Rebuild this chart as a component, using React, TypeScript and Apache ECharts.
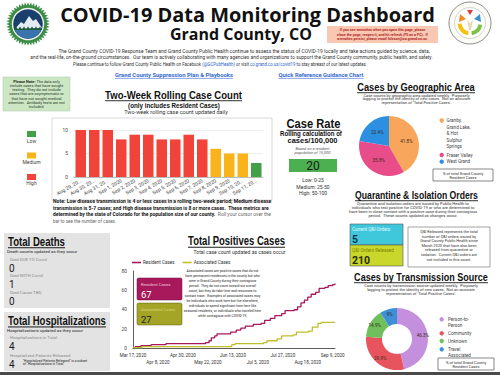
import React, { useEffect, useRef } from "react";
import * as echarts from "echarts";

// ---------- DATA ----------
const barDates = ["Aug 29, 2020", "Aug 30, 2020", "Aug 31, 2020", "Sep 1, 2020", "Sep 2, 2020", "Sep 3, 2020", "Sep 4, 2020", "Sep 5, 2020", "Sep 6, 2020", "Sep 7, 2020", "Sep 8, 2020", "Sep 9, 2020", "Sep 10, 2020", "Sep 11, 2020"];
const rollingCounts = [10, 10, 10, 8, 9, 9, 8, 8, 9, 8, 6, 5, 5, 3];
const rollingTicks = { min: 0, max: 10, interval: 5 };
const lowMax = 4;
const mediumMax = 7;

const positivesStart = "2020-03-17";
const positivesEnd = "2020-09-11";
const positivesTickDays = 22;
const positivesTicks = { min: 0, max: 80, interval: 20 };
const residentCases: [string, number][] = [
  ["2020-03-17", 1], ["2020-03-19", 2], ["2020-03-24", 3], ["2020-04-02", 4], ["2020-04-15", 5],
  ["2020-05-20", 6], ["2020-05-23", 8], ["2020-05-25", 11], ["2020-05-28", 13], ["2020-05-30", 15],
  ["2020-06-11", 17], ["2020-06-16", 19], ["2020-06-20", 21], ["2020-06-24", 23], ["2020-07-01", 25],
  ["2020-07-08", 26], ["2020-07-11", 29], ["2020-07-16", 31], ["2020-07-20", 34], ["2020-07-26", 36],
  ["2020-07-29", 39], ["2020-08-06", 40], ["2020-08-09", 43], ["2020-08-12", 47], ["2020-08-15", 50],
  ["2020-08-18", 53], ["2020-08-21", 56], ["2020-08-25", 58], ["2020-08-28", 62], ["2020-09-02", 63],
  ["2020-09-05", 65], ["2020-09-09", 66], ["2020-09-11", 67],
];
const associatedCases: [string, number][] = [
  ["2020-03-17", 1], ["2020-03-25", 2], ["2020-06-12", 4], ["2020-06-15", 5], ["2020-07-10", 6],
  ["2020-07-13", 8], ["2020-07-22", 10], ["2020-07-26", 13], ["2020-08-05", 14], ["2020-08-08", 17],
  ["2020-08-19", 18], ["2020-08-22", 22], ["2020-08-27", 26], ["2020-08-30", 27], ["2020-09-11", 27],
];

const geoNames = ["Granby, Grand Lake, & Hot Sulphur Springs", "Fraser Valley", "West Grand"];
const geoPercents = [41.8, 35.8, 22.4];
const sourceNames = ["Person-to-Person", "Community", "Unknown", "Travel Associated"];
const sourcePercents = [46.3, 29.9, 14.9, 9];

const deathLabels = ["Died DUE TO Covid", "Died WITH Covid", "Died Cause TBD"];
const deathCounts = [0, 1, 0];
const hospLabels = ["Hospitalizations in Total", "Hospitalized Patients Released"];
const hospCounts = [4, 4];
const caseRate = 20;
const caseRateBands = ["Low: 0-25", "Medium: 25-50", "High: 50-100"];
const qiCurrent = 5;
const qiReleased = 210;

// ---------- STYLE ----------
const FONT = "Roboto, 'Liberation Sans', sans-serif";
const HEAD = "'Liberation Sans', Arial, sans-serif";
const TITLE = "'Open Sans', sans-serif";
const C_LOW = "#43a047";
const C_MED = "#f9b31b";
const C_HIGH = "#f2433a";
const C_RES = "#a8195c";
const C_ASSOC = "#bfbf2e";
const GEO_COLORS = ["#f7a65c", "#e84d8a", "#2c8fe2"];
const SRC_COLORS = ["#c490dd", "#e8545d", "#6fc05c", "#3d8fd6"];

const MONTHS = ["Jan", "Feb", "Mar", "Apr", "May", "Jun", "Jul", "Aug", "Sep", "Oct", "Nov", "Dec"];
const DAY = 86400000;
const t0 = Date.parse(positivesStart + "T00:00:00Z");
const dayOf = (d: string) => Math.round((Date.parse(d + "T00:00:00Z") - t0) / DAY);
const dateLabel = (day: number) => {
  const d = new Date(t0 + day * DAY);
  return `${MONTHS[d.getUTCMonth()]} ${d.getUTCDate()}, ${d.getUTCFullYear()}`;
};
const levelColor = (v: number) => (v <= lowMax ? C_LOW : v <= mediumMax ? C_MED : C_HIGH);

let mctx: any = null;
function measure(text: string, size: number, weight = "normal", family = FONT, italic = false) {
  if (!mctx) mctx = document.createElement("canvas").getContext("2d");
  mctx.font = `${italic ? "italic " : ""}${weight} ${size}px ${family}`;
  return mctx.measureText(text).width || 1;
}

type TOpts = { weight?: string; family?: string; fill?: string; align?: string; underline?: boolean; italic?: boolean; lineHeight?: number };
function txt(text: string, x: number, y: number, size: number, o: TOpts = {}) {
  return {
    type: "text", x, y, z: 20,
    style: {
      text, fontSize: size, fontWeight: o.weight || "normal", fontFamily: o.family || FONT,
      fill: o.fill || "#222", align: o.align || "left", verticalAlign: "middle",
      fontStyle: o.italic ? "italic" : "normal", lineHeight: o.lineHeight,
    },
  };
}
function fit(text: string, x: number, y: number, w: number, size: number, o: TOpts = {}) {
  const weight = o.weight || "normal";
  const family = o.family || FONT;
  const align = o.align || "center";
  const m = measure(text, size, weight, family, o.italic);
  const el: any = txt(text, x, y, size, { ...o, align });
  el.scaleX = w / m;
  const out: any[] = [el];
  if (o.underline) {
    const x0 = align === "center" ? x - w / 2 : align === "left" ? x : x - w;
    const uy = y + size * 0.52;
    out.push({ type: "line", z: 20, shape: { x1: x0, y1: uy, x2: x0 + w, y2: uy }, style: { stroke: o.fill || "#111", lineWidth: Math.max(0.6, size * 0.08) } });
  }
  return out;
}
function lines(arr: string[], x: number, y0: number, step: number, size: number, o: TOpts = {}) {
  return arr.map((s, i) => txt(s, x, y0 + i * step, size, { align: "center", ...o }));
}
const rect = (x: number, y: number, w: number, h: number, style: any, z = 1, r = 0) => ({ type: "rect", z, shape: { x, y, width: w, height: h, r }, style });
const arcPts = (cx: number, cy: number, r: number, a0: number, a1: number, n: number) => {
  const p: number[][] = [];
  for (let i = 0; i <= n; i++) { const a = a0 + ((a1 - a0) * i) / n; p.push([cx + r * Math.cos(a), cy + r * Math.sin(a)]); }
  return p;
};

function leftLogo(cx: number, cy: number) {
  const star: number[][] = [];
  for (let i = 0; i < 88; i++) { const r = i % 2 ? 18.6 : 21.8; const a = (i * Math.PI) / 44; star.push([cx + r * Math.cos(a), cy + r * Math.sin(a)]); }
  const la = Math.asin(5 / 14.6);
  const lake = arcPts(cx, cy, 14.6, la, Math.PI - la, 16);
  const trees: number[][] = [[cx - 14, cy + 6]];
  for (let i = 0; i <= 14; i++) trees.push([cx - 14 + i * 2, cy + (i % 2 ? 2.5 : 5.5)]);
  trees.push([cx + 14, cy + 6]);
  return [
    { type: "polygon", z: 5, shape: { points: star }, style: { fill: "#3c8c47" } },
    { type: "circle", z: 5, shape: { cx, cy, r: 16.2 }, style: { fill: "#eef3ea" } },
    { type: "circle", z: 5, shape: { cx, cy, r: 14.8 }, style: { fill: "#1b3f6c" } },
    { type: "polygon", z: 5, shape: { points: [[cx - 13, cy + 5], [cx - 7, cy - 2], [cx - 4, cy], [cx + 1, cy - 8], [cx + 5, cy - 3], [cx + 8, cy - 5], [cx + 14, cy + 4]] }, style: { fill: "#e3ecf4" } },
    { type: "polygon", z: 5, shape: { points: lake }, style: { fill: "#3a74ae" } },
    { type: "polygon", z: 5, shape: { points: trees }, style: { fill: "#1f5b34" } },
  ];
}
function rightLogo(cx: number, cy: number) {
  return [
    { type: "circle", z: 5, shape: { cx, cy, r: 21 }, style: { fill: "#fcfcf7", stroke: "#8c8c8c", lineWidth: 1 } },
    { type: "circle", z: 5, shape: { cx, cy, r: 15.5 }, style: { fill: "#fff", stroke: "#b5b5b5", lineWidth: 0.6 } },
    { type: "arc", z: 5, shape: { cx, cy, r: 10.5, startAngle: Math.PI * 0.55, endAngle: Math.PI * 0.98 }, style: { stroke: "#f4c20d", lineWidth: 4, fill: "none" } },
    { type: "arc", z: 5, shape: { cx, cy, r: 10.5, startAngle: Math.PI * 0.05, endAngle: Math.PI * 0.45 }, style: { stroke: "#7cc242", lineWidth: 4, fill: "none" } },
    { type: "polygon", z: 5, shape: { points: [[cx - 10, cy - 9], [cx - 4, cy - 4], [cx - 11, cy - 1]] }, style: { fill: "#f08a24" } },
    { type: "polygon", z: 5, shape: { points: [[cx + 10, cy - 9], [cx + 4, cy - 4], [cx + 11, cy - 1]] }, style: { fill: "#3d8fd1" } },
    { type: "polygon", z: 5, shape: { points: [[cx - 3, cy - 13], [cx + 3, cy - 13], [cx, cy - 8]] }, style: { fill: "#e23b3b" } },
    { type: "polygon", z: 5, shape: { points: [[cx - 3, cy - 3], [cx, cy], [cx + 3, cy - 3], [cx + 1, cy + 7], [cx - 1, cy + 7]] }, style: { fill: "#e9dcb5" } },
  ];
}

function buildGraphic() {
  const G: any[] = [];
  // header
  G.push(...leftLogo(28, 24));
  G.push(...rightLogo(470, 23));
  G.push(...fit("COVID-19 Data Monitoring Dashboard", 247.5, 14.5, 375, 20, { weight: "bold", family: TITLE, fill: "#111" }));
  G.push(...fit("Grand County, CO", 241, 34, 142, 16.5, { weight: "bold", family: TITLE, fill: "#111" }));
  G.push(rect(327, 26, 111, 17, { fill: "#f8c8b3" }));
  G.push(...lines(["If you see wrenches when you open this page, please", "close the page, reopen it, and hit refresh (F5 on a PC).  If", "wrenches persist, please email fcleson@co.grand.co.us."], 382.5, 30.2, 4.4, 3.6, { fill: "#b3261e", weight: "bold" }));

  G.push(...fit("The Grand County COVID-19 Response Team and Grand County Public Health continue to assess the status of COVID-19 locally and take actions guided by science, data,", 244, 52, 372, 4.6, { fill: "#333" }));
  G.push(...fit("and the real-life, on-the-ground circumstances.  Our team is actively collaborating with many agencies and organizations to support the Grand County community, public health, and safety.", 231.5, 58, 403, 4.6, { fill: "#333" }));
  {
    const a = "Please continue to follow Grand County Public Health on Facebook ";
    const b = "(@GCPubHealth)";
    const c = " or visit ";
    const d = "co.grand.co.us/covid19";
    const e = " to stay abreast of our latest updates.";
    const m = measure(a + b + c + d + e, 4.6);
    const el: any = txt(`{n|${a}}{l|${b}}{n|${c}}{l|${d}}{n|${e}}`, 220, 64, 4.6, { align: "center", fill: "#333" });
    el.style.rich = { n: { fontSize: 4.6, fill: "#333", fontFamily: FONT }, l: { fontSize: 4.6, fill: "#2a62c9", fontFamily: FONT } };
    el.scaleX = 294 / m;
    G.push(el);
  }
  G.push(...fit("Grand County Suppression Plan & Playbooks", 174, 75.5, 118, 5.5, { fill: "#3567cf", weight: "bold", underline: true }));
  G.push(...fit("Quick Reference Guidance Chart", 321, 75.5, 85, 5.5, { fill: "#3567cf", weight: "bold", underline: true }));

  // green note
  G.push(rect(3, 77, 67, 34, { fill: "#cde6c4", stroke: "#a5c9a0", lineWidth: 0.5 }));
  {
    const el: any = txt("{b|Please Note:} The data only", 36.5, 81, 3.9, { align: "center", fill: "#2a3a2a" });
    el.style.rich = { b: { fontSize: 3.9, fontWeight: "bold", fill: "#1d2d1d", fontFamily: FONT } };
    G.push(el);
  }
  G.push(...lines(["include cases that have sought", "testing.  They do not include", "cases that are asymptomatic or", "that have not sought medical", "attention.  Antibody tests are not", "included."], 36.5, 85.3, 4.3, 3.9, { fill: "#2a3a2a" }));

  // two-week rolling
  G.push(...fit("Two-Week Rolling Case Count", 173.5, 95, 137, 11, { weight: "bold", family: HEAD, fill: "#111", underline: true }));
  G.push(...fit("(only includes Resident Cases)", 174, 105, 92, 7.5, { weight: "bold", family: HEAD, fill: "#111" }));
  G.push(...fit("Two-week rolling case count updated daily", 176, 112.5, 104, 5, { fill: "#333" }));
  G.push(rect(52, 118, 220, 82, { fill: "#fff", stroke: "#cfcfcf", lineWidth: 0.8 }, 0));
  [[C_LOW, "Low"], [C_MED, "Medium"], [C_HIGH, "High"]].forEach(([c, l], i) => {
    G.push(rect(27, 131 + i * 21.5, 9, 6, { fill: c }));
    G.push(txt(l, 31.5, 141 + i * 21.2, 5, { align: "center", fill: "#444" }));
  });
  G.push(...fit("Note: Low disease transmission is 4 or less cases in a rolling two-week period; Medium disease", 53, 202, 219, 4.5, { weight: "bold", align: "left", fill: "#111" }));
  G.push(...fit("transmission is 5-7 cases; and High disease transmission is 8 or more cases.  These metrics are", 53, 208.5, 216, 4.5, { weight: "bold", align: "left", fill: "#111" }));
  {
    const a = "determined by the state of Colorado for the population size of our county.";
    const b = "  Roll your cursor over the";
    const m = measure(a, 4.5, "bold") + measure(b, 4.5);
    const el: any = txt(`{b|${a}}{g|${b}}`, 53, 215, 4.5, { fill: "#111" });
    el.style.rich = { b: { fontSize: 4.5, fontWeight: "bold", fill: "#111", fontFamily: FONT }, g: { fontSize: 4.5, fill: "#666", fontFamily: FONT } };
    el.scaleX = 218 / m;
    G.push(el);
  }
  G.push(txt("bar to see the number of cases.", 53, 221.5, 4.5, { fill: "#666" }));

  // case rate
  G.push(...fit("Case Rate", 313.5, 124, 54, 12, { weight: "bold", family: HEAD, fill: "#111", underline: true }));
  G.push(...fit("Rolling calculation of", 311, 133, 62, 6.5, { weight: "bold", family: HEAD, fill: "#111" }));
  G.push(...fit("cases/100,000", 312.5, 141, 50, 6.5, { weight: "bold", family: HEAD, fill: "#111" }));
  G.push(...fit("Based on a resident", 312.5, 148.5, 34, 4.3, { italic: true, fill: "#555" }));
  G.push(...fit("population of 15,000", 312.5, 152.5, 36, 4.3, { italic: true, fill: "#555" }));
  G.push(rect(289, 159, 48, 13, { fill: "#4caf50" }));
  G.push(txt(String(caseRate), 313, 166, 12, { align: "center", fill: "#1a1a1a" }));
  caseRateBands.forEach((s, i) => G.push(txt(s, 313, 180 + i * 6.5, 5, { align: "center", fill: "#333" })));

  // geographic
  G.push(...fit("Cases by Geographic Area", 416, 87, 118, 11, { weight: "bold", family: HEAD, fill: "#111", underline: true }));
  G.push(...lines(["Case counts by geographic area updated weekly.  Purposely", "lagging to protect the identity of new cases.  Not an accurate", "representation of 'Total Positive Cases'."], 416.5, 95, 3.6, 4, { fill: "#333" }));
  const geoLegend = [["Granby,", "Grand Lake,", "& Hot", "Sulphur", "Springs"], ["Fraser Valley"], ["West Grand"]];
  const geoY = [120.5, 155, 161.7];
  geoLegend.forEach((ls, i) => {
    G.push({ type: "circle", z: 20, shape: { cx: 441.7, cy: geoY[i], r: 2.2 }, style: { fill: GEO_COLORS[i] } });
    ls.forEach((s, j) => G.push(txt(s, 446.5, geoY[i] + j * 6.5, 4.6, { fill: "#444" })));
  });
  G.push(rect(433, 169, 60, 12, { fill: "#fff", stroke: "#555", lineWidth: 0.7 }));
  G.push(...lines(["% of total Grand County", "Resident Cases"], 463, 173, 4.2, 3.9, { fill: "#333" }));

  // quarantine
  G.push(...fit("Quarantine & Isolation Orders", 416.5, 195, 123, 11, { weight: "bold", family: HEAD, fill: "#111", underline: true }));
  G.push(...lines(["Quarantine and isolation orders are issued by Public Health to", "individuals who test positive for COVID-19 or who are determined to", "have been in close contact with a positive case during their contagious", "period.  These counts updated as changes occur."], 413, 203.3, 4.1, 4.1, { fill: "#333" }));
  G.push(rect(350, 224, 53, 21, { fill: "#3fc8dc", stroke: "#555", lineWidth: 0.6 }));
  G.push(txt("Current Q&I Orders", 352, 229, 4.6, { fill: "#e8fbff" }));
  G.push(txt(String(qiCurrent), 352, 239, 10.5, { fill: "#0c2e4e", weight: "bold" }));
  G.push(rect(350, 245, 53, 21, { fill: "#c9d62c", stroke: "#555", lineWidth: 0.6 }));
  G.push(txt("Q&I Orders Released", 352, 250.5, 4.6, { fill: "#7b8600" }));
  G.push(txt(String(qiReleased), 352, 260, 10.5, { fill: "#2a2a05", weight: "bold" }));
  G.push(rect(408, 227, 82, 40, { fill: "#fff", stroke: "#666", lineWidth: 0.6 }));
  G.push(...lines(["Q&I Released represents the total", "number of Q&I orders issued by", "Grand County Public Health since", "March 2020 that have also been", "released from quarantine or", "isolation.  Current Q&I orders are", "not included in this count."], 449, 231.5, 4.6, 3.9, { fill: "#333" }));

  // transmission
  G.push(...fit("Cases by Transmission Source", 421, 277, 134, 11, { weight: "bold", family: HEAD, fill: "#111", underline: true }));
  G.push(...lines(["Case counts by transmission source updated weekly.  Purposely", "lagging to protect the identity of new cases.  Not an accurate", "representation of 'Total Positive Cases'."], 421, 285.8, 3.7, 4, { fill: "#333" }));
  const srcLegend = [["Person-to-", "Person"], ["Community"], ["Unknown"], ["Travel", "Associated"]];
  const srcY = [319.3, 333.3, 341, 349.3];
  srcLegend.forEach((ls, i) => {
    G.push({ type: "circle", z: 20, shape: { cx: 441.7, cy: srcY[i], r: 2.2 }, style: { fill: SRC_COLORS[i] } });
    ls.forEach((s, j) => G.push(txt(s, 448, srcY[i] + j * 6.2, 4.6, { fill: "#444" })));
  });
  G.push(rect(438, 358, 56, 12, { fill: "#fff", stroke: "#555", lineWidth: 0.7 }));
  G.push(...lines(["% of total Grand County", "Resident Cases"], 466, 362, 4.2, 3.9, { fill: "#333" }));

  // deaths
  G.push(rect(4, 233, 106, 75, { fill: "#e3e3e3" }, 0));
  G.push(...fit("Total Deaths", 8, 241.5, 57, 12, { weight: "bold", family: HEAD, fill: "#111", align: "left", underline: true }));
  G.push(txt("Death counts updated as they occur", 7, 251.7, 4.4, { fill: "#222" }));
  deathLabels.forEach((l, i) => {
    G.push(txt(l, 10, 259.3 + i * 16.5, 4.4, { fill: "#8a8a8a" }));
    G.push(txt(String(deathCounts[i]), 9, 268.3 + i * 16.5, 10, { fill: "#1a1a1a" }));
  });

  // hospitalizations
  G.push(rect(4, 312, 106, 59, { fill: "#e3e3e3" }, 0));
  G.push(...fit("Total Hospitalizations", 8, 320.7, 98, 12, { weight: "bold", family: HEAD, fill: "#111", align: "left", underline: true }));
  G.push(txt("Hospitalizations updated as they occur", 7, 330, 4.4, { fill: "#222" }));
  hospLabels.forEach((l, i) => {
    G.push(txt(l, 10, 337 + i * 18, 4.4, { fill: "#8a8a8a" }));
    G.push(txt(String(hospCounts[i]), 9, 346.7 + i * 17.3, 10, { fill: "#1a1a1a" }));
  });
  G.push(txt("\"Hospitalized Patients Released\" is a subset", 23, 360.5, 3.3, { fill: "#222" }));
  G.push(txt("of \"Hospitalizations in Total\"", 23, 364.3, 3.3, { fill: "#222" }));

  // total positives
  G.push(...fit("Total Positives Cases", 236.5, 241, 97, 12, { weight: "bold", family: HEAD, fill: "#111", underline: true }));
  G.push(...fit("Total case count updated as cases occur", 239.5, 252.5, 92, 4.6, { fill: "#333" }));
  const resLast = residentCases[residentCases.length - 1][1];
  const assocLast = associatedCases[associatedCases.length - 1][1];
  G.push(rect(137, 278, 45, 22, { fill: C_RES, stroke: "#6e0f3c", lineWidth: 0.5 }, 20, 1.5));
  G.push(txt("Resident Cases", 141, 284.5, 4.3, { fill: "#f3c4da" }));
  G.push(txt(String(resLast), 141, 294.5, 9.5, { fill: "#fff" }));
  G.push(rect(137, 303, 45, 22, { fill: "#a4a426", stroke: "#5f5f0e", lineWidth: 0.5 }, 20, 1.5));
  G.push(txt("Associated Cases", 141, 309.5, 4.3, { fill: "#d4d47c" }));
  G.push(txt(String(assocLast), 141, 319, 9.5, { fill: "#222" }));
  G.push(...lines(["Associated cases are positive cases that do not", "have permanent residences in the county but who", "were in Grand County during their contagious", "period.  They do not count toward our overall", "count, but they do take time and resources to", "contact trace.  Examples of associated cases may", "be individuals who work here but live elsewhere,", "individuals to spend significant time here like", "seasonal residents, or individuals who traveled here", "while contagious with COVID-19."], 222.5, 270.7, 5.05, 3.4, { fill: "#222" }).map((e: any) => ({ ...e, z: 30 })));

  // bottom bar
  G.push(rect(0, 372, 500, 3, { fill: "#4a4a4a" }, 30));
  return G;
}

function buildOption() {
  const endDay = dayOf(positivesEnd);
  return {
    animation: false,
    backgroundColor: "#fff",
    textStyle: { fontFamily: FONT },
    legend: [{
      data: ["Resident Cases", "Associated Cases"], left: 132, top: 260, icon: "rect", itemWidth: 9, itemHeight: 1.6,
      itemGap: 8, padding: 0, selectedMode: false, textStyle: { fontSize: 4.6, color: "#333", fontFamily: FONT, padding: [0, 0, 0, -3] },
    }],
    grid: [
      { left: 74, top: 130, width: 189, height: 47 },
      { left: 133, top: 271, width: 202, height: 77.5 },
    ],
    xAxis: [
      {
        type: "category", gridIndex: 0, data: barDates, axisTick: { show: false },
        axisLine: { lineStyle: { color: "#999", width: 0.6 } },
        axisLabel: { interval: 0, rotate: 30, fontSize: 5, color: "#444", margin: 3, formatter: (v: string) => (v.length > 11 ? v.slice(0, 10) + "..." : v) },
      },
      {
        type: "value", gridIndex: 1, min: 0, max: endDay, interval: positivesTickDays,
        axisTick: { show: false }, splitLine: { show: false },
        axisLine: { show: true, lineStyle: { color: "#333", width: 0.8 } },
        axisLabel: {
          fontSize: 4.6, color: "#333", margin: 4, lineHeight: 6.5, showMaxLabel: false,
          formatter: (v: number) => (v % positivesTickDays !== 0 ? "" : (v / positivesTickDays) % 2 ? "\n" + dateLabel(v) : dateLabel(v)),
        },
      },
    ],
    yAxis: [
      {
        type: "value", gridIndex: 0, ...rollingTicks, axisLine: { show: false }, axisTick: { show: false },
        splitLine: { lineStyle: { color: "#e2e2e2", width: 0.6 } },
        axisLabel: { fontSize: 4.8, color: "#444", margin: 6 },
      },
      {
        type: "value", gridIndex: 1, ...positivesTicks, axisLine: { show: true, lineStyle: { color: "#333", width: 0.8 } },
        axisTick: { show: false }, splitLine: { show: false },
        axisLabel: { fontSize: 4.8, color: "#444", margin: 6 },
      },
    ],
    series: [
      {
        type: "bar", xAxisIndex: 0, yAxisIndex: 0, barCategoryGap: "22%",
        data: rollingCounts.map((v) => ({ value: v, itemStyle: { color: levelColor(v) } })),
      },
      {
        name: "Resident Cases", type: "line", xAxisIndex: 1, yAxisIndex: 1, step: "end", showSymbol: false,
        color: C_RES, lineStyle: { color: C_RES, width: 1.3 },
        data: residentCases.map(([d, v]) => [dayOf(d), v]),
      },
      {
        name: "Associated Cases", type: "line", xAxisIndex: 1, yAxisIndex: 1, step: "end", showSymbol: false,
        color: C_ASSOC, lineStyle: { color: C_ASSOC, width: 1.3 },
        data: associatedCases.map(([d, v]) => [dayOf(d), v]),
      },
      {
        type: "pie", center: [389, 146], radius: 30, startAngle: 90, silent: true,
        label: { position: "inside", formatter: "{c}%", fontSize: 4.6, color: "#3a2a1a" },
        labelLine: { show: false },
        data: geoNames.map((n, i) => ({ name: n, value: geoPercents[i], itemStyle: { color: GEO_COLORS[i] } })),
      },
      {
        type: "pie", center: [397, 339], radius: [15, 31], startAngle: 90, silent: true,
        label: { position: "inside", formatter: "{c}%", fontSize: 4.6, color: "#3a2a1a" },
        labelLine: { show: false },
        data: sourceNames.map((n, i) => ({ name: n, value: sourcePercents[i], itemStyle: { color: SRC_COLORS[i] } })),
      },
    ],
    graphic: { elements: buildGraphic() },
  };
}

export default function App() {
  const ref = useRef<HTMLDivElement>(null);
  useEffect(() => {
    const chart = echarts.init(ref.current!, null, { renderer: "svg", width: 500, height: 375 });
    chart.setOption(buildOption() as any);
    return () => chart.dispose();
  }, []);
  return <div ref={ref} style={{ position: "fixed", left: 0, top: 0, width: 500, height: 375, background: "#fff" }} />;
}
